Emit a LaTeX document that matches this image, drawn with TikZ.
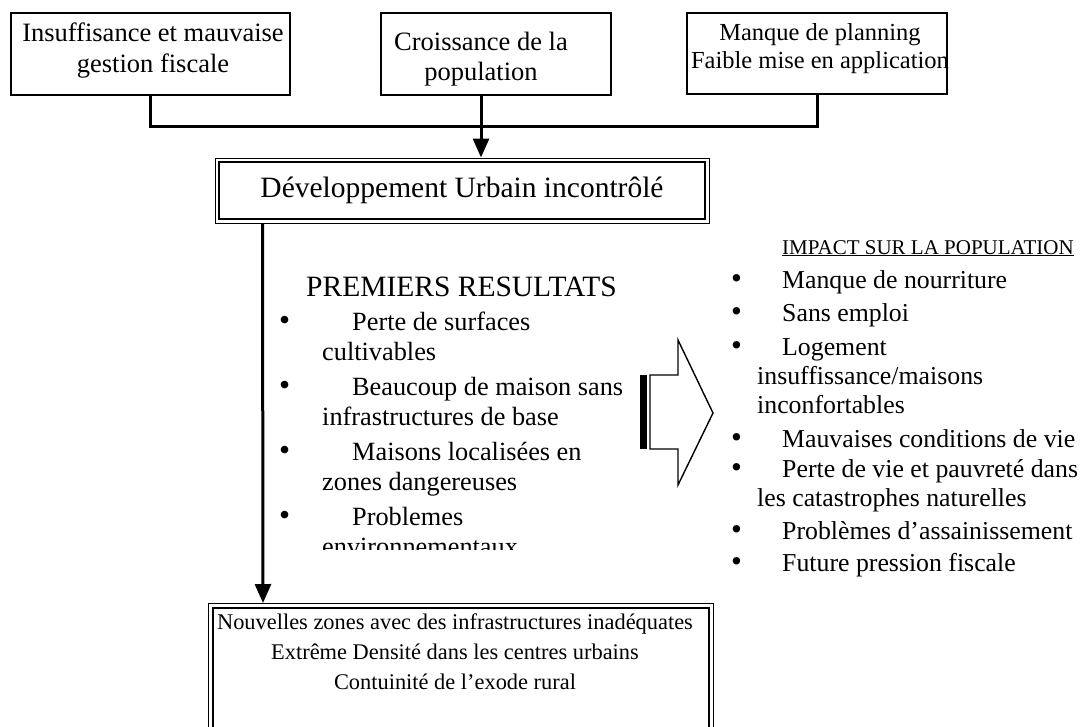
\documentclass[tikz,border=0pt]{standalone}
\usepackage{fontspec}
\setmainfont{Liberation Serif}
\usetikzlibrary{arrows.meta,calc}
\newcommand{\bulL}{\makebox[73pt][l]{\raisebox{-0.5pt}{\scalebox{1.2}{\textbullet}}}}
\newcommand{\bulR}{\makebox[51pt][l]{\raisebox{-0.5pt}{\scalebox{1.2}{\textbullet}}}}

\begin{document}
\begin{tikzpicture}[x=1pt,y=-1pt,
  box/.style={draw, line width=1.4pt, inner sep=0pt},
  link/.style={line width=3pt},
  arrowhd/.style={-{Triangle[length=19pt,width=16pt]}},
  causetext/.style={inner sep=0pt, anchor=base, align=center, font=\fontsize{26.5}{31}\selectfont},
  leftline/.style={inner sep=0pt, anchor=base west, font=\fontsize{26.3}{30}\selectfont},
  rightline/.style={inner sep=0pt, anchor=base west, font=\fontsize{25.8}{29}\selectfont}]
\useasboundingbox (0,0) rectangle (1090,726);

% causes
\node[box, minimum width=279pt, minimum height=82pt] (fiscal) at (150.5,54) {};
\node[causetext] (fiscalT) at (153,72) {Insuffisance et mauvaise\\gestion fiscale};
\node[box, minimum width=230pt, minimum height=82pt] (croiss) at (496,54) {};
\node[causetext, font=\fontsize{26.5}{30}\selectfont] (croissT) at (481,80) {Croissance de la\\population};
\node[box, minimum width=260pt, minimum height=81pt] (planning) at (817,53.5) {};
\node[causetext, font=\fontsize{24.5}{28}\selectfont] (planningT) at (820,68) {Manque de planning\\Faible mise en application};

% central box
\node[box, line width=1pt, minimum width=494pt, minimum height=65pt, font=\fontsize{29.5}{34}\selectfont] (dev) at (462,190.5) {Développement Urbain incontrôlé};
\draw[line width=2pt] ([shift={(4.5,4.5)}]dev.north west) rectangle ([shift={(-4.5,-4.5)}]dev.south east);

\coordinate (tie) at (481,126);
\draw[link] (fiscal.south) -- (fiscal.south |- tie) -- (planning.south |- tie) -- (planning.south);
\draw[link, arrowhd] (croiss.south -| tie) -- (tie |- dev.north);

% outcome box
\node[box, line width=1pt, minimum width=505pt, minimum height=160pt, anchor=north west] (outcome) at (208,603) {};
\draw[line width=2pt] ([shift={(5,5)}]outcome.north west) rectangle ([shift={(-5,-5)}]outcome.south east);
\node[causetext, font=\fontsize{22.4}{30}\selectfont] (outcomeT) at (455,689) {Nouvelles zones avec des infrastructures inadéquates\\Extrême Densité dans les centres urbains\\Contuinité de l’exode rural};

\draw[link, arrowhd] ([xshift=48pt]dev.south west) -- ([xshift=55pt]outcome.north west);

% premiers resultats
\node[inner sep=0pt, anchor=base west, font=\fontsize{29.5}{34}\selectfont] (premiers) at (306,296) {PREMIERS RESULTATS};
\begin{scope}
  \clip (270,240) rectangle (640,549);
  \foreach \i/\x/\y/\t in {1/279/330/{\bulL Perte de surfaces}, 2/322/360/{cultivables},
      3/279/395/{\bulL Beaucoup de maison sans}, 4/322/425/{infrastructures de base},
      5/279/460/{\bulL Maisons localisées en}, 6/322/490/{zones dangereuses},
      7/279/525/{\bulL Problemes}, 8/322/555/{environnementaux}}
    \node[leftline] (res\i) at (\x,\y) {\t};
\end{scope}

% block arrow
\fill (640,375) rectangle (647,449);
\draw[line width=1.4pt, line join=miter] (650,375) -- (678,375) -- (678,340) -- (713,413) -- (678,485) -- (678,449) -- (650,449) -- cycle;

% impact
\node[inner sep=0pt, anchor=base west, font=\fontsize{21}{25}\selectfont] (impact) at (782,254) {\underline{IMPACT SUR LA POPULATION}};
\foreach \i/\x/\y/\t in {1/731/288/{\bulR Manque de nourriture}, 2/731/321/{\bulR Sans emploi},
    3/731/355/{\bulR Logement}, 4/757/384/{insuffissance/maisons}, 5/757/413/{inconfortables},
    6/731/447/{\bulR Mauvaises conditions de vie}, 7/731/477/{\bulR Perte de vie et pauvreté dans},
    8/757/506/{les catastrophes naturelles}, 9/731/539/{\bulR Problèmes d’assainissement},
    10/731/571/{\bulR Future pression fiscale}}
  \node[rightline] (imp\i) at (\x,\y) {\t};

\end{tikzpicture}
\end{document}
